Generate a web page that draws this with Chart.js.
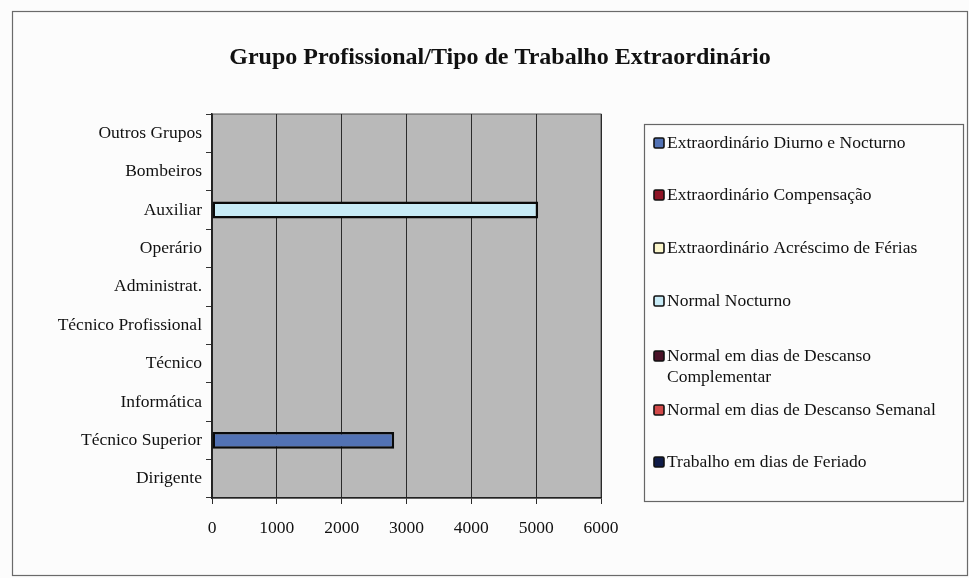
<!DOCTYPE html>
<html>
<head>
<meta charset="utf-8">
<script src="https://cdn.jsdelivr.net/npm/chart.js@4/dist/chart.umd.min.js"></script>
<style>
  html, body { margin: 0; padding: 0; background: #fcfcfc; }
  #wrap { position: relative; width: 969px; height: 578px; }
</style>
</head>
<body>
<div id="wrap"><canvas id="c" width="969" height="578"></canvas></div>
<script>
// ---- data ----
const titleText = "Grupo Profissional/Tipo de Trabalho Extraordinário";
const categories = ["Dirigente", "Técnico Superior", "Informática", "Técnico", "Técnico Profissional",
                    "Administrat.", "Operário", "Auxiliar", "Bombeiros", "Outros Grupos"];
const seriesNames = [
  "Extraordinário Diurno e Nocturno",
  "Extraordinário Compensação",
  "Extraordinário Acréscimo de Férias",
  "Normal Nocturno",
  "Normal em dias de Descanso Complementar",
  "Normal em dias de Descanso Semanal",
  "Trabalho em dias de Feriado"
];
const extraDiurnoNocturno   = [0, 2810, 0, 0, 0, 0, 0, 0, 0, 0];
const extraCompensacao      = [0, 0, 0, 0, 0, 0, 0, 0, 0, 0];
const extraAcrescimoFerias  = [0, 0, 0, 0, 0, 0, 0, 0, 0, 0];
const normalNocturno        = [0, 0, 0, 0, 0, 0, 0, 5030, 0, 0];
const normalDescansoCompl   = [0, 0, 0, 0, 0, 0, 0, 0, 0, 0];
const normalDescansoSemanal = [0, 0, 0, 0, 0, 0, 0, 0, 0, 0];
const trabalhoFeriado       = [0, 0, 0, 0, 0, 0, 0, 0, 0, 0];
const xTicks = [0, 1000, 2000, 3000, 4000, 5000, 6000];

// ---- styles ----
const seriesValues = [extraDiurnoNocturno, extraCompensacao, extraAcrescimoFerias, normalNocturno,
                      normalDescansoCompl, normalDescansoSemanal, trabalhoFeriado];
const seriesColors = ["#5272b4", "#8e1426", "#fbf6cc", "#c8ebf6", "#4a1228", "#d24a4a", "#101c48"];
const SERIF = "'Liberation Serif', 'Times New Roman', serif";
const FS = 17.5;

const datasets = seriesNames.map((name, i) => ({
  label: name,
  data: seriesValues[i],
  backgroundColor: seriesColors[i],
  borderColor: "#0a0a0a",
  borderWidth: ctx => (ctx.raw ? 2.5 : 0),
  borderSkipped: false
}));

const decorPlugin = {
  id: "decor",
  beforeDraw(chart) {
    const ctx = chart.ctx;
    const a = chart.chartArea;
    ctx.save();
    ctx.fillStyle = "#fcfcfc";
    ctx.fillRect(0, 0, chart.width, chart.height);
    // outer frame
    ctx.strokeStyle = "#6a6a6a";
    ctx.lineWidth = 1.2;
    ctx.strokeRect(12.5, 11.5, 955, 564);
    // plot area
    ctx.fillStyle = "#b9b9b9";
    ctx.fillRect(a.left, a.top, a.right - a.left, a.bottom - a.top);
    ctx.strokeStyle = "#555";
    ctx.lineWidth = 1;
    ctx.strokeRect(a.left, a.top, a.right - a.left, a.bottom - a.top);
    // title
    ctx.fillStyle = "#111";
    ctx.font = "bold 24px " + SERIF;
    ctx.textAlign = "center";
    ctx.textBaseline = "alphabetic";
    ctx.fillText(titleText, 500, 64);
    ctx.restore();
  },
  afterDraw(chart) {
    const ctx = chart.ctx;
    ctx.save();
    // legend box
    const bx = 644, by = 124, bw = 319, bh = 377;
    ctx.strokeStyle = "#666";
    ctx.lineWidth = 1.2;
    ctx.strokeRect(bx + 0.5, by + 0.5, bw, bh);
    const centers = [143, 195, 248, 301, 356, 410, 462];
    ctx.font = FS + "px " + SERIF;
    ctx.textAlign = "left";
    ctx.textBaseline = "middle";
    const tx = 667, maxW = 290, lh = 21;
    chart.data.datasets.forEach((ds, i) => {
      const cy = centers[i];
      // marker
      ctx.fillStyle = ds.backgroundColor;
      ctx.strokeStyle = "#111";
      ctx.lineWidth = 1.6;
      ctx.beginPath();
      if (ctx.roundRect) ctx.roundRect(654, cy - 5, 10, 10, 1.5); else ctx.rect(654, cy - 5, 10, 10);
      ctx.fill();
      ctx.stroke();
      // wrapped text
      const words = ds.label.split(" ");
      const lines = [];
      let cur = "";
      words.forEach(w => {
        const t = cur ? cur + " " + w : w;
        if (ctx.measureText(t).width > maxW && cur) { lines.push(cur); cur = w; } else cur = t;
      });
      lines.push(cur);
      ctx.fillStyle = "#111";
      lines.forEach((ln, k) => ctx.fillText(ln, tx, cy + k * lh));
    });
    ctx.restore();
  }
};

new Chart(document.getElementById("c"), {
  type: "bar",
  data: { labels: categories, datasets },
  options: {
    indexAxis: "y",
    responsive: false,
    animation: false,
    layout: { padding: { left: 0, top: 114, right: 368, bottom: 0 } },
    datasets: { bar: { barPercentage: 0.44, categoryPercentage: 1.0 } },
    plugins: { legend: { display: false }, title: { display: false }, tooltip: { enabled: false } },
    scales: {
      x: {
        stacked: true,
        min: 0, max: 6000,
        afterBuildTicks: s => { s.ticks = xTicks.map(v => ({ value: v })); },
        afterFit: s => { s.height = 80; },
        grid: { color: "#2b2b2b", lineWidth: 1, tickLength: 6, drawTicks: true },
        border: { display: true, color: "#222", width: 1.5 },
        ticks: { color: "#111", font: { family: SERIF, size: FS }, padding: 14, maxRotation: 0,
                 callback: v => String(v) }
      },
      y: {
        stacked: true,
        reverse: true,
        afterFit: s => { s.width = 212; },
        grid: { drawOnChartArea: false, drawTicks: true, tickLength: 6, color: "#333", offset: true },
        border: { display: true, color: "#222", width: 1.5 },
        ticks: { color: "#111", font: { family: SERIF, size: FS }, padding: 4, autoSkip: false }
      }
    }
  },
  plugins: [decorPlugin]
});
</script>
</body>
</html>
